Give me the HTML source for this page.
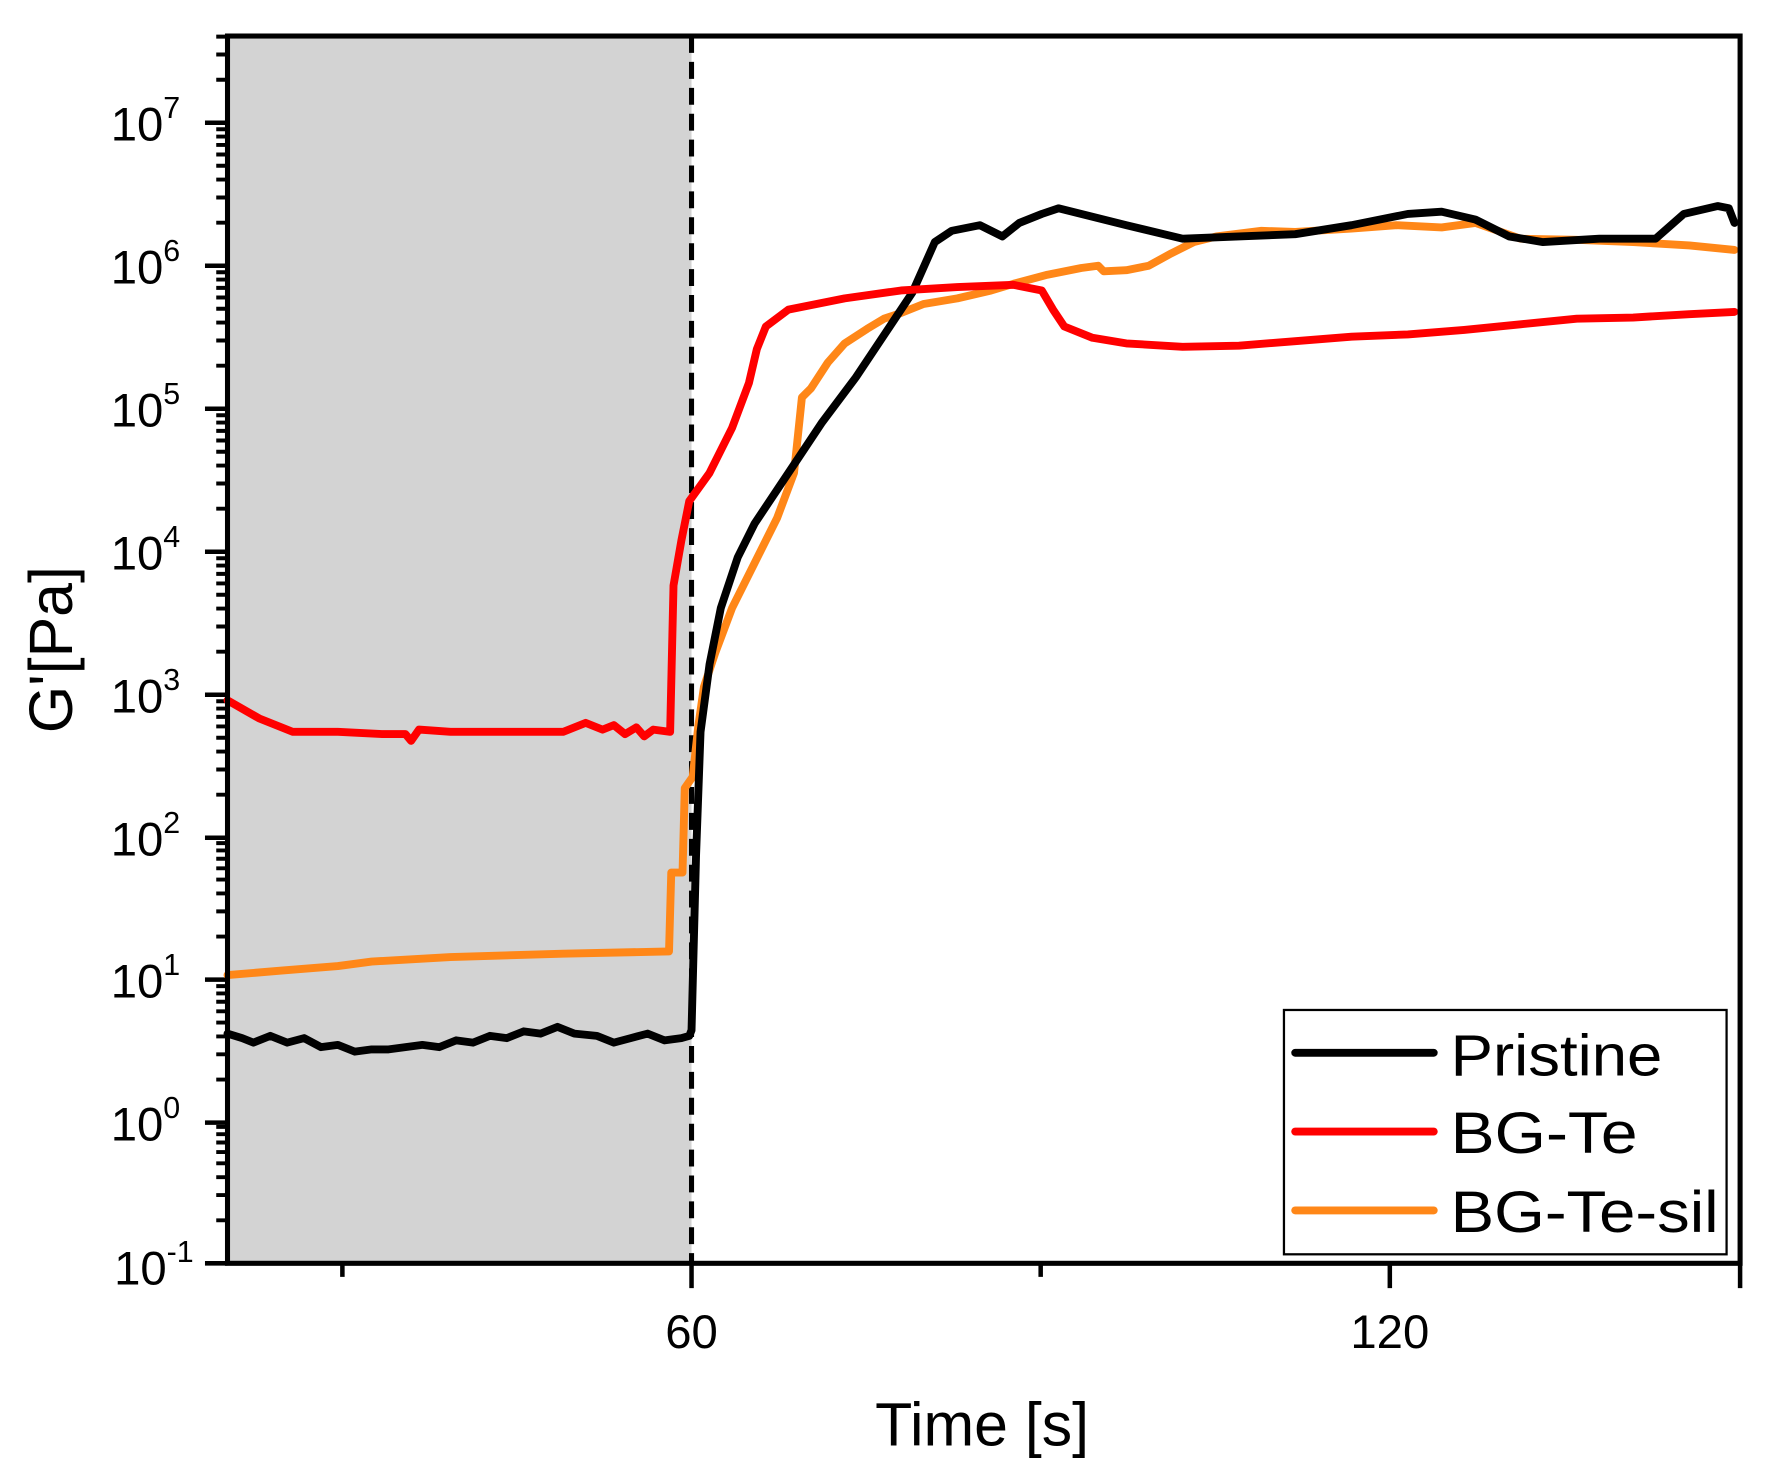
<!DOCTYPE html>
<html><head><meta charset="utf-8"><style>
html,body{margin:0;padding:0;background:#fff;}
svg{display:block;}
text{font-family:"Liberation Sans",Arial,sans-serif;fill:#000;}
</style></head><body>
<svg width="1766" height="1484" viewBox="0 0 1568 1318" preserveAspectRatio="none" xmlns="http://www.w3.org/2000/svg">
<defs>
<path id="mt" d="M202,0 h-10 M202,-38.2 h-10 M202,-60.6 h-10 M202,-76.5 h-10 M202,-88.8 h-10 M202,-98.8 h-10 M202,-107.3 h-10 M202,-114.7 h-10 M202,-121.2 h-10" stroke="#000" stroke-width="3.5" fill="none"/>
</defs>
<rect x="202" y="32" width="412" height="1090" fill="#d3d3d3"/>
<use href="#mt" transform="translate(0,1122)"/>
<use href="#mt" transform="translate(0,997)"/>
<use href="#mt" transform="translate(0,870)"/>
<use href="#mt" transform="translate(0,744)"/>
<use href="#mt" transform="translate(0,617)"/>
<use href="#mt" transform="translate(0,490)"/>
<use href="#mt" transform="translate(0,363)"/>
<use href="#mt" transform="translate(0,236)"/>
<path d="M202,109 h-10 M202,70.8 h-10 M202,48.4 h-10 M202,32.5 h-10" stroke="#000" stroke-width="3.5"/>
<path d="M202,109 h-20 M202,236 h-20 M202,363 h-20 M202,490 h-20 M202,617 h-20 M202,744 h-20 M202,870 h-20 M202,997 h-20 M202,1122 h-20" stroke="#000" stroke-width="4"/>
<path d="M304,1122 v12 M924,1122 v12 M614,1122 v22 M1234,1122 v22 M1545,1122 v22" stroke="#000" stroke-width="4"/>
<line x1="614" y1="32" x2="614" y2="1122" stroke="#000" stroke-width="4.5" stroke-dasharray="15,8"/>
<g fill="none" stroke-width="7" stroke-linejoin="round" stroke-linecap="round">
<polyline stroke="#ff8718" points="202,866 250,862 300,858 330,854 400,850 500,847 594,845 596,775 606,775 608,700 615,690 620,645 625,610 635,580 650,540 670,500 690,460 705,420 712,353 720,345 735,322 750,305 770,292 785,283 800,278 820,270 850,265 880,258 900,252 930,244 960,238 975,236 980,241 1000,240 1020,236 1040,225 1060,215 1080,210 1120,205 1150,206 1200,203 1240,200 1280,202 1310,198 1330,205 1350,212 1400,213 1450,215 1500,218 1540,222"/>
<polyline stroke="#000" points="202,918 215,922 225,926 240,920 255,926 270,922 285,930 300,928 315,934 330,932 345,932 360,930 375,928 390,930 405,924 420,926 435,920 450,922 465,916 480,918 495,912 510,918 530,920 545,926 560,922 575,918 590,924 605,922 612,920 614,915 618,760 622,650 630,590 640,540 655,495 670,465 690,435 710,405 730,375 760,335 790,290 810,260 830,215 845,205 870,200 890,210 905,198 925,190 940,185 960,190 1000,200 1050,212 1100,210 1150,208 1200,200 1250,190 1280,188 1310,195 1340,210 1370,215 1420,212 1470,212 1495,190 1525,183 1535,185 1540,198"/>
<polyline stroke="#ff0000" points="202,622 230,638 260,650 300,650 340,652 360,652 365,658 372,648 400,650 500,650 520,642 535,648 545,644 555,652 565,646 572,654 580,648 595,650 598,520 605,480 612,445 630,420 650,380 665,340 672,310 680,290 700,275 750,265 800,258 850,255 900,253 925,258 935,275 945,290 970,300 1000,305 1050,308 1100,307 1150,303 1200,299 1250,297 1300,293 1350,288 1400,283 1450,282 1500,279 1540,277"/>
</g>
<rect x="202" y="32" width="1343" height="1090" fill="none" stroke="#000" stroke-width="4.5"/>
<rect x="1140" y="897" width="393" height="217" fill="#fff" stroke="#000" stroke-width="2"/>
<g stroke-width="7" stroke-linecap="round">
<line x1="1150" y1="935" x2="1273" y2="935" stroke="#000"/>
<line x1="1150" y1="1005" x2="1273" y2="1005" stroke="#ff0000"/>
<line x1="1150" y1="1075" x2="1273" y2="1075" stroke="#ff8718"/>
</g>
<g font-size="52">
<text x="1288" y="955" textLength="188" lengthAdjust="spacingAndGlyphs">Pristine</text>
<text x="1288" y="1024" textLength="166" lengthAdjust="spacingAndGlyphs">BG-Te</text>
<text x="1288" y="1094" textLength="238" lengthAdjust="spacingAndGlyphs">BG-Te-sil</text>
</g>
<g font-size="42" text-anchor="end">
<text x="160" y="125">10<tspan font-size="27" dy="-20">7</tspan></text>
<text x="160" y="252">10<tspan font-size="27" dy="-20">6</tspan></text>
<text x="160" y="379">10<tspan font-size="27" dy="-20">5</tspan></text>
<text x="160" y="506">10<tspan font-size="27" dy="-20">4</tspan></text>
<text x="160" y="633">10<tspan font-size="27" dy="-20">3</tspan></text>
<text x="160" y="760">10<tspan font-size="27" dy="-20">2</tspan></text>
<text x="160" y="886">10<tspan font-size="27" dy="-20">1</tspan></text>
<text x="160" y="1013">10<tspan font-size="27" dy="-20">0</tspan></text>
<text x="172" y="1141">10<tspan font-size="27" dy="-20">-1</tspan></text>
</g>
<g font-size="42" text-anchor="middle">
<text x="614" y="1197">60</text>
<text x="1234" y="1197">120</text>
</g>
<text x="872" y="1284" font-size="54" text-anchor="middle">Time [s]</text>
<text transform="translate(64,577) rotate(-90)" font-size="54" text-anchor="middle">G'[Pa]</text>
</svg>
</body></html>
